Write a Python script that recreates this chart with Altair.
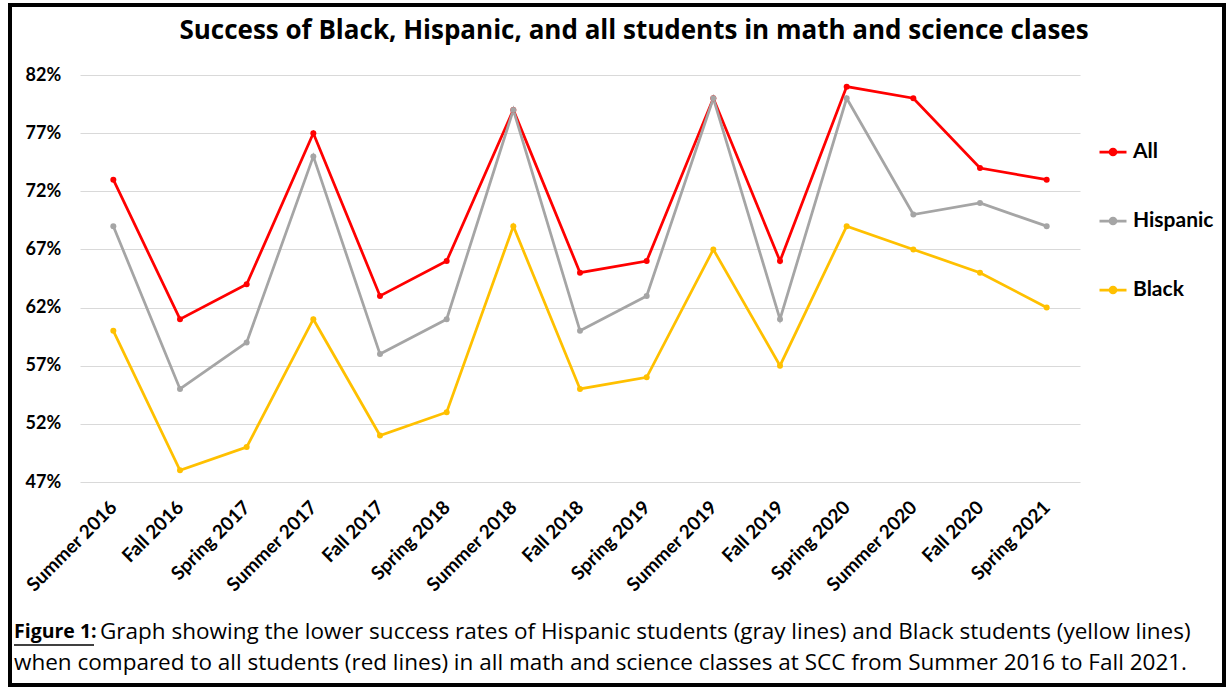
import altair as alt
import pandas as pd

terms = ["Summer 2016", "Fall 2016", "Spring 2017", "Summer 2017", "Fall 2017",
         "Spring 2018", "Summer 2018", "Fall 2018", "Spring 2019", "Summer 2019",
         "Fall 2019", "Spring 2020", "Summer 2020", "Fall 2020", "Spring 2021"]
all_students = [73, 61, 64, 77, 63, 66, 79, 65, 66, 80, 66, 81, 80, 74, 73]
hispanic = [69, 55, 59, 75, 58, 61, 79, 60, 63, 80, 61, 80, 70, 71, 69]
black = [60, 48, 50, 61, 51, 53, 69, 55, 56, 67, 57, 69, 67, 65, 62]

series_names = ["All", "Hispanic", "Black"]
series_colors = ["#ff0000", "#a5a5a5", "#ffc000"]
y_ticks = [47, 52, 57, 62, 67, 72, 77, 82]

title_text = "Success of Black, Hispanic, and all students in math and science clases"
caption_label = "Figure 1:"
caption_line1 = "Graph showing the lower success rates of Hispanic students (gray lines) and Black students (yellow lines)"
caption_line2 = "when compared to all students (red lines) in all math and science classes at SCC from Summer 2016 to Fall 2021."

rows = []
for name, vals in zip(series_names, [all_students, hispanic, black]):
    for t, v in zip(terms, vals):
        rows.append({"term": t, "pct": v, "series": name})
df = pd.DataFrame(rows)

W, H = 1000, 407
PL, PT = 80, 75
TOTAL_W, TOTAL_H = 1228, 688
FONT = "Lato"
TFONT = "Open Sans"

legend_symbol = "M-1,0H1M-0.22,0a0.22,0.22 0 1,0 0.44,0a0.22,0.22 0 1,0 -0.44,0"

color = alt.Color(
    "series:N",
    scale=alt.Scale(domain=series_names, range=series_colors),
    legend=alt.Legend(
        title=None, orient="none", legendX=1018, legendY=62,
        symbolType=legend_symbol, symbolSize=729, symbolStrokeWidth=2.75,
        labelFont=FONT, labelFontSize=21, labelFontWeight="bold", labelColor="black",
        rowPadding=44, labelOffset=5,
    ),
)

x = alt.X(
    "term:N", sort=terms,
    scale=alt.Scale(type="point", padding=0.5),
    axis=alt.Axis(
        title=None, labelAngle=-45, labelAlign="right", labelBaseline="middle",
        labelFont=FONT, labelFontSize=19, labelFontWeight="bold", labelColor="black",
        ticks=False, domain=False, grid=False, labelPadding=22,
    ),
)
y = alt.Y(
    "pct:Q",
    scale=alt.Scale(domain=[47, 82], nice=False, zero=False),
    axis=alt.Axis(
        title=None, values=y_ticks, labelExpr="datum.value + '%'",
        labelAlign="left", labelPadding=55, labelFont=FONT, labelFontSize=18,
        labelFontWeight="bold", labelColor="black", ticks=False, domain=False,
        gridColor="#d9d9d9", gridWidth=1,
    ),
)

base = alt.Chart(df)
lines = base.mark_line(strokeWidth=2.75).encode(x=x, y=y, color=color)
points = base.mark_circle(size=36, opacity=1).encode(x=x, y=y, color=color)


def text_layer(txt, xpx, ypx, size, weight, align, font):
    return alt.Chart(pd.DataFrame({"t": [txt]})).mark_text(
        font=font, fontSize=size, fontWeight=weight, align=align,
        baseline="middle", color="black",
    ).encode(text="t:N", x=alt.value(xpx - PL), y=alt.value(ypx - PT))


one = pd.DataFrame({"a": [0]})
border = alt.Chart(one).mark_rect(filled=False, stroke="black", strokeWidth=4).encode(
    x=alt.value(10 - PL), x2=alt.value(1224 - PL),
    y=alt.value(5 - PT), y2=alt.value(685 - PT),
)
underline = alt.Chart(one).mark_rule(color="black", strokeWidth=1.5).encode(
    x=alt.value(14 - PL), x2=alt.value(94 - PL), y=alt.value(645 - PT),
)

title = text_layer(title_text, 634, 31, 26, "bold", "center", TFONT)
cap0 = text_layer(caption_label, 14, 632, 19.5, "bold", "left", TFONT)
cap1 = text_layer(caption_line1, 100, 632, 22.5, "normal", "left", TFONT)
cap2 = text_layer(caption_line2, 14, 663, 22.5, "normal", "left", TFONT)

chart = alt.layer(border, lines, points, title, cap0, cap1, cap2, underline).properties(
    width=W, height=H,
    padding={"left": PL, "top": PT, "right": TOTAL_W - PL - W, "bottom": TOTAL_H - PT - H},
    autosize=alt.AutoSizeParams(type="none"),
    background="white",
).configure_view(stroke=None)

chart.save("out.html", embed_options={"renderer": "svg", "actions": False})
